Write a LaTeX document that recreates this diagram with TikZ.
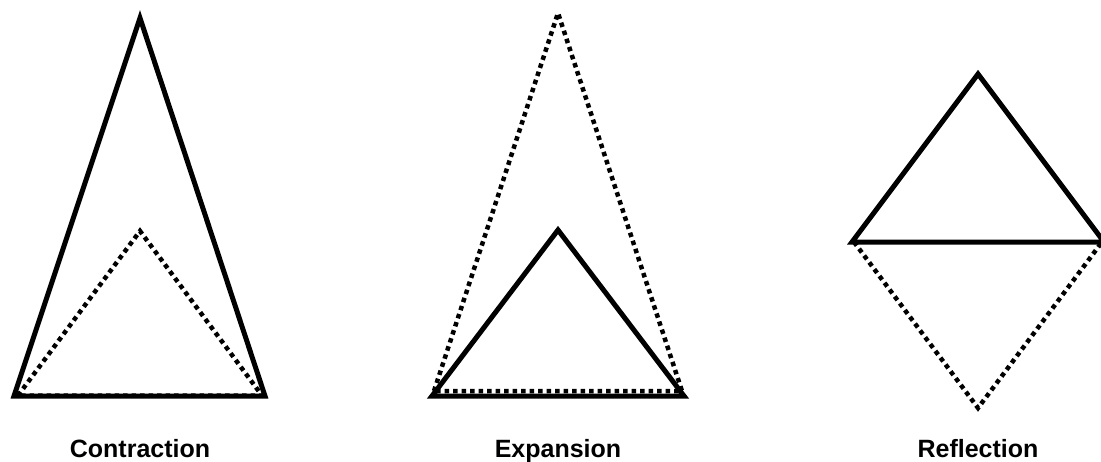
\documentclass[tikz,border=0pt]{standalone}
\usepackage{fontspec}
\setmainfont{Liberation Sans}
\begin{document}
\begin{tikzpicture}[x=1pt,y=-1pt,
  solidtri/.style={line width=5pt,line join=miter,black},
  dottri/.style={line width=4.5pt,dash pattern=on 4.5pt off 4pt,black},
  lbl/.style={font=\fontsize{25}{30}\selectfont\bfseries,inner sep=0pt,anchor=base}]
\useasboundingbox (0,0) rectangle (1101,461);
% Contraction
\draw[dottri] (18,395.5) -- (140,231) -- (262,395.5) -- cycle;
\draw[solidtri] (14,396) -- (140,18) -- (265,396) -- cycle;
\node[lbl] (c) at (140,457) {Contraction};
% Expansion
\draw[solidtri] (432,396) -- (558,230) -- (684,396) -- cycle;
\draw[dottri] (434,391) -- (558,13) -- (682,391) -- cycle;
\node[lbl] (e) at (558,457) {Expansion};
% Reflection
\draw[dottri] (854,242) -- (978,408) -- (1102,242);
\draw[solidtri] (852,242) -- (978,74) -- (1104,242) -- cycle;
\node[lbl] (r) at (978,457) {Reflection};
\end{tikzpicture}
\end{document}
